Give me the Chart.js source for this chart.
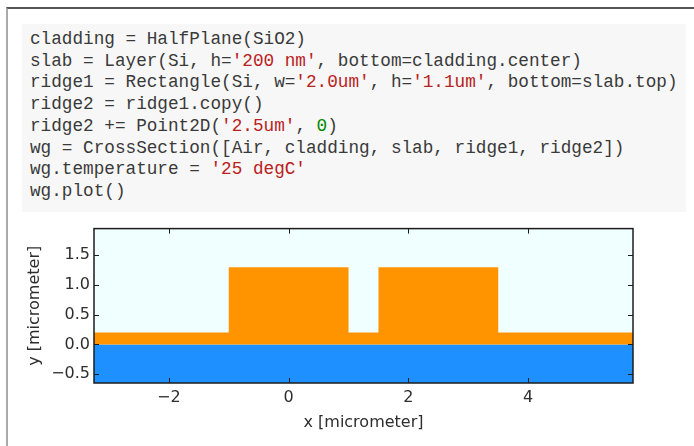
<!DOCTYPE html>
<html>
<head>
<meta charset="utf-8">
<script src="https://cdn.jsdelivr.net/npm/chart.js@4"></script>
<style>
  html, body { margin: 0; padding: 0; background: #fff; width: 694px; height: 446px; overflow: hidden; }
  #frame { position: absolute; left: 6px; top: 7px; width: 688px; height: 439px; box-sizing: border-box;
           border-top: 2px solid #555; border-left: 2px solid #aaa; }
  #code { position: absolute; left: 22px; top: 24px; width: 664px; height: 188px; box-sizing: border-box;
          margin: 0; padding: 5px 0 0 8px; background: #f7f7f7; color: #3a3a3a;
          font: 17.7px/21.7px "Liberation Mono", "DejaVu Sans Mono", monospace; white-space: pre; }
  .s { color: #ba2121; }
  .n { color: #080; }
  #plot { position: absolute; left: 0; top: 215px; width: 694px; height: 231px; }
</style>
</head>
<body>
<div id="frame"></div>
<pre id="code">cladding = HalfPlane(SiO2)
slab = Layer(Si, h=<span class="s">'200 nm'</span>, bottom=cladding.center)
ridge1 = Rectangle(Si, w=<span class="s">'2.0um'</span>, h=<span class="s">'1.1um'</span>, bottom=slab.top)
ridge2 = ridge1.copy()
ridge2 += Point2D(<span class="s">'2.5um'</span>, <span class="n">0</span>)
wg = CrossSection([Air, cladding, slab, ridge1, ridge2])
wg.temperature = <span class="s">'25 degC'</span>
wg.plot()</pre>
<div id="plot"><canvas id="chart" width="694" height="231"></canvas></div>
<script>
// Plot window (micrometer)
const xLimits = [-3.25, 5.75];
const yLimits = [-0.65, 1.95];

// Tick labels
const xTicks = [-2, 0, 2, 4];
const yTicks = [-0.5, 0.0, 0.5, 1.0, 1.5];

// Silicon outline: 200 nm slab plus two 2.0 um x 1.1 um ridges
const siX = [-3.25, -1.0, -1.0, 1.0, 1.0, 1.5, 1.5, 3.5, 3.5, 5.75];
const siY = [0.2, 0.2, 1.3, 1.3, 0.2, 0.2, 1.3, 1.3, 0.2, 0.2];

// SiO2 half plane top surface
const claddingTop = 0.0;

const toPoints = (xs, ys) => xs.map((x, i) => ({ x: x, y: ys[i] }));

const fmt = (v, digits) => {
  const s = Number(v).toFixed(digits);
  return Math.abs(v) < 1e-9 ? s.replace('-', '') : s.replace('-', '\u2212');
};

const tickFont = { family: 'DejaVu Sans', size: 16 };
const textColor = '#2e2e2e';

// Axes box with inward ticks on all four sides
const axesFrame = {
  id: 'axesFrame',
  afterDatasetsDraw(chart) {
    const { ctx, chartArea: a, scales: { x, y } } = chart;
    const L = 5;
    ctx.save();
    ctx.strokeStyle = '#1c1c1c';
    ctx.lineWidth = 1;
    ctx.beginPath();
    x.ticks.forEach(t => {
      const px = Math.round(x.getPixelForValue(t.value)) + 0.5;
      ctx.moveTo(px, a.top); ctx.lineTo(px, a.top + L);
      ctx.moveTo(px, a.bottom); ctx.lineTo(px, a.bottom - L);
    });
    y.ticks.forEach(t => {
      const py = Math.round(y.getPixelForValue(t.value)) + 0.5;
      ctx.moveTo(a.left, py); ctx.lineTo(a.left + L, py);
      ctx.moveTo(a.right, py); ctx.lineTo(a.right - L, py);
    });
    ctx.stroke();
    ctx.lineWidth = 1.5;
    ctx.strokeRect(a.left, a.top, a.right - a.left, a.bottom - a.top);
    ctx.restore();
  }
};

new Chart(document.getElementById('chart'), {
  type: 'line',
  data: {
    datasets: [
      {
        label: 'Si',
        data: toPoints(siX, siY),
        backgroundColor: '#ff9400',
        borderWidth: 0,
        pointRadius: 0,
        fill: 'origin',
        tension: 0,
        order: 1
      },
      {
        label: 'SiO2',
        data: toPoints(xLimits, [claddingTop, claddingTop]),
        backgroundColor: '#1e90ff',
        borderWidth: 0,
        pointRadius: 0,
        fill: 'start',
        order: 2
      },
      {
        label: 'Air',
        data: toPoints(xLimits, [yLimits[1], yLimits[1]]),
        backgroundColor: '#f0ffff',
        borderWidth: 0,
        pointRadius: 0,
        fill: 'start',
        order: 3
      }
    ]
  },
  options: {
    responsive: false,
    animation: false,
    devicePixelRatio: 1,
    layout: { padding: { left: 0, right: 61, top: 11, bottom: 0 } },
    plugins: { legend: { display: false }, tooltip: { enabled: false } },
    scales: {
      x: {
        type: 'linear',
        min: xLimits[0],
        max: xLimits[1],
        afterBuildTicks: s => { s.ticks = xTicks.map(v => ({ value: v })); },
        afterFit: s => { s.height = 63; },
        grid: { display: false, drawTicks: false },
        border: { display: false },
        ticks: { font: tickFont, color: textColor, padding: 5, maxRotation: 0,
                 callback: v => fmt(v, 0) },
        title: { display: true, text: 'x [micrometer]', font: tickFont, color: textColor,
                 padding: { top: 0, bottom: 14 } }
      },
      y: {
        type: 'linear',
        min: yLimits[0],
        max: yLimits[1],
        afterBuildTicks: s => { s.ticks = yTicks.map(v => ({ value: v })); },
        afterFit: s => { s.width = 94; },
        grid: { display: false, drawTicks: false },
        border: { display: false },
        ticks: { font: tickFont, color: textColor, padding: 4,
                 callback: v => fmt(v, 1) },
        title: { display: true, text: 'y [micrometer]', font: tickFont, color: textColor,
                 padding: { top: 25, bottom: 0 } }
      }
    }
  },
  plugins: [axesFrame]
});
</script>
</body>
</html>
